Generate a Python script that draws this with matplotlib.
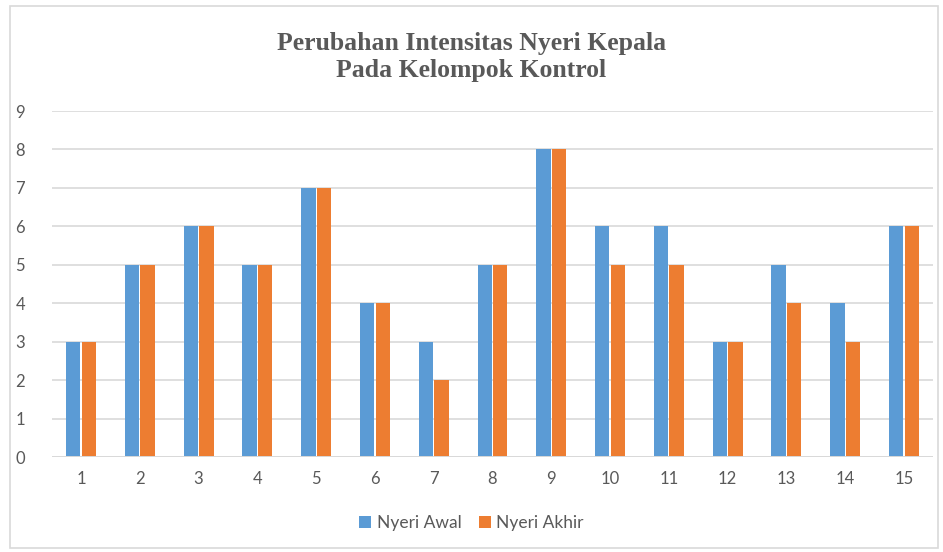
import matplotlib
matplotlib.use("Agg")
import matplotlib.pyplot as plt
import numpy as np
from matplotlib.patches import Rectangle

categories = [str(i) for i in range(1, 16)]
nyeri_awal = [3, 5, 6, 5, 7, 4, 3, 5, 8, 6, 6, 3, 5, 4, 6]
nyeri_akhir = [3, 5, 6, 5, 7, 4, 2, 5, 8, 5, 5, 3, 4, 3, 6]
series_names = ["Nyeri Awal", "Nyeri Akhir"]
colors = ["#5B9BD5", "#ED7D31"]

W, H = 943, 552
fig = plt.figure(figsize=(W / 100, H / 100), dpi=100)
fig.patch.set_facecolor("white")

# outer chart border
fig.add_artist(Rectangle((10 / W, 4 / H), 928 / W, 542 / H, transform=fig.transFigure,
                         fill=False, edgecolor="#D9D9D9", linewidth=1.2))

ax = fig.add_axes([51.6 / W, 1 - 457 / H, (933.4 - 51.6) / W, (457 - 111) / H])
x = np.arange(len(categories))
bw = 0.245
gap = 0.02
ax.bar(x - bw / 2 - gap / 2, nyeri_awal, bw, color=colors[0], label=series_names[0], zorder=3)
ax.bar(x + bw / 2 + gap / 2, nyeri_akhir, bw, color=colors[1], label=series_names[1], zorder=3)

ax.set_xlim(-0.5, len(categories) - 0.5)
ax.set_ylim(0, 9)
ax.set_yticks(range(0, 10))
ax.set_xticks(x)
ax.set_xticklabels(categories)
for s in ax.spines.values():
    s.set_visible(False)
ax.grid(axis="y", color="#D9D9D9", linewidth=1.2, zorder=0)
ax.axhline(0, color="#D9D9D9", linewidth=1.4, zorder=4)
ax.tick_params(length=0, colors="#595959", labelsize=12)
for lbl in ax.get_xticklabels() + ax.get_yticklabels():
    lbl.set_fontfamily("Lato")
ax.tick_params(axis="x", pad=10)
ax.tick_params(axis="y", pad=26)
for lbl in ax.get_yticklabels():
    lbl.set_horizontalalignment("left")

fig.text(0.5, 1 - 57 / H, "Perubahan Intensitas Nyeri Kepala\nPada Kelompok Kontrol",
         ha="center", va="center", fontfamily="Liberation Serif", fontweight="bold",
         fontsize=18.5, color="#595959", linespacing=1.2)

leg = fig.legend(loc="center", bbox_to_anchor=(0.5, 1 - 523 / H), ncol=2, frameon=False,
                 handlelength=0.7, handleheight=0.7, handletextpad=0.3, columnspacing=1.0,
                 prop={"family": "Lato", "size": 12.5})
for t in leg.get_texts():
    t.set_color("#595959")

fig.savefig("out.png", dpi=100)
